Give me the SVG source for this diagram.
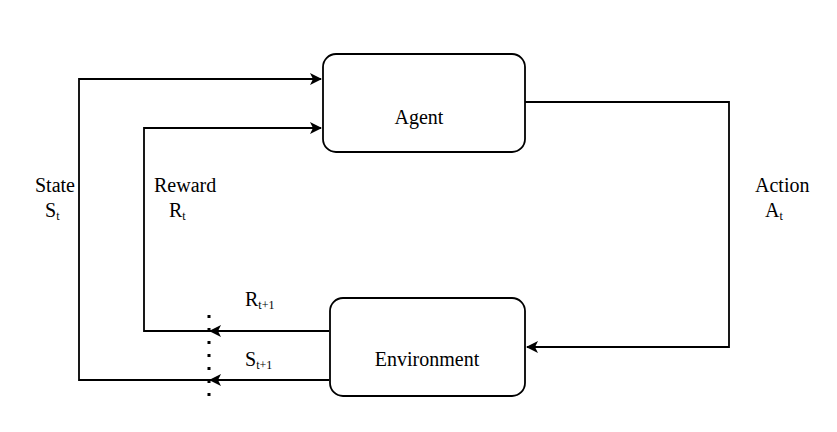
<svg xmlns="http://www.w3.org/2000/svg" width="837" height="432" viewBox="0 0 837 432">
<style>
.node{fill:#fff;stroke:#000;stroke-width:1.8}
.conn{fill:none;stroke:#000;stroke-width:1.8}
text{font-family:"Liberation Serif","Times New Roman",serif;font-size:20px;fill:#000}
.sub{font-size:12px}
</style>
<defs>
<marker id="arr" viewBox="0 0 12 12" refX="11" refY="6" markerWidth="12" markerHeight="12" markerUnits="userSpaceOnUse" orient="auto">
<path d="M0,0 L12,6 L0,12 L3,6 Z" fill="#000"/>
</marker>
</defs>
<rect width="837" height="432" fill="#fff"/>
<g id="connectors">
<polyline class="conn" points="329,331 144,331 144,128 321,128" marker-end="url(#arr)"/>
<polyline class="conn" points="329,380 79,380 79,79 321,79" marker-end="url(#arr)"/>
<polyline class="conn" points="525,102 729,102 729,347 527,347" marker-end="url(#arr)"/>
<path class="conn" d="M329,331 L210,331" marker-end="url(#arr)"/>
<path class="conn" d="M329,380 L210,380" marker-end="url(#arr)"/>
<line x1="209" y1="315" x2="209" y2="397" stroke="#000" stroke-width="3" stroke-dasharray="3,10"/>
</g>
<g id="agent">
<rect class="node" x="323" y="54" width="202" height="98" rx="13"/>
<text x="419" y="124" text-anchor="middle">Agent</text>
</g>
<g id="environment">
<rect class="node" x="330" y="298" width="195" height="98" rx="13"/>
<text x="427" y="366" text-anchor="middle">Environment</text>
</g>
<g id="labels">
<text x="35" y="192">State</text>
<text x="45" y="217">S<tspan class="sub" dy="3">t</tspan></text>
<text x="154" y="192">Reward</text>
<text x="169" y="217">R<tspan class="sub" dy="3">t</tspan></text>
<text x="755" y="192">Action</text>
<text x="765" y="217">A<tspan class="sub" dy="3">t</tspan></text>
<text x="245" y="306">R<tspan class="sub" dy="2.5">t+1</tspan></text>
<text x="245" y="366">S<tspan class="sub" dy="2.5">t+1</tspan></text>
</g>
</svg>
